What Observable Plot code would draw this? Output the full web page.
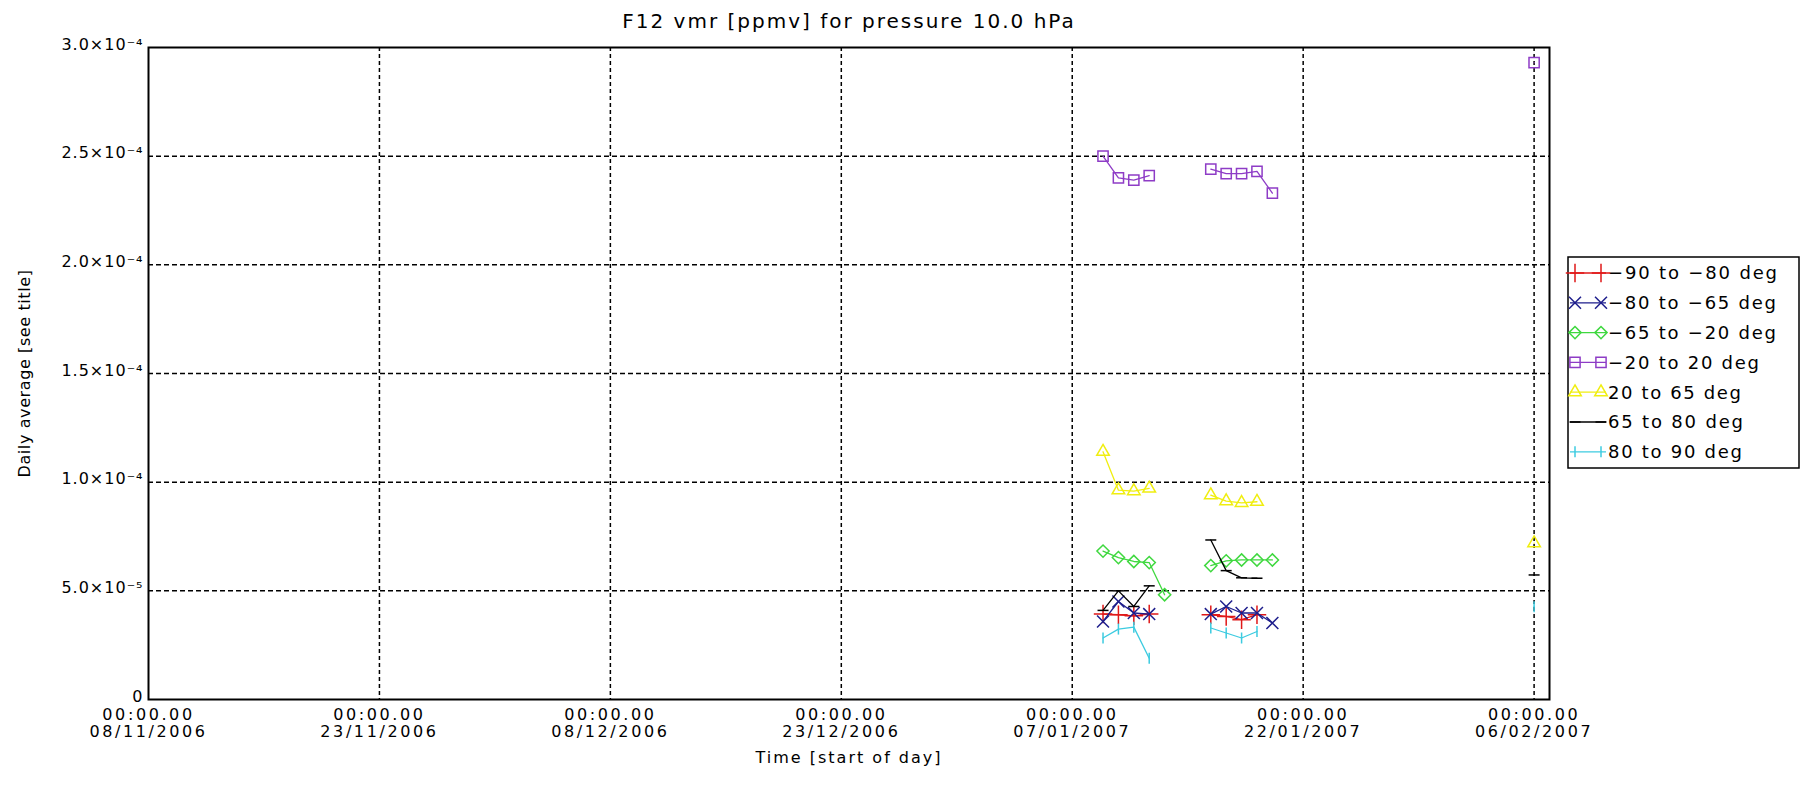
<!DOCTYPE html>
<html>
<head>
<meta charset="utf-8">
<script src="https://cdn.jsdelivr.net/npm/d3@7"></script>
<script src="https://cdn.jsdelivr.net/npm/@observablehq/plot@0.6"></script>
<style>
  html, body { margin: 0; padding: 0; background: white; }
  #chart svg { display: block; }
</style>
</head>
<body>
<div id="chart"></div>
<script>
// ---- data ----
const dates = ["2007-01-09","2007-01-10","2007-01-11","2007-01-12","2007-01-13",
               "2007-01-16","2007-01-17","2007-01-18","2007-01-19","2007-01-20","2007-02-06"];
const seriesNames = ["-90 to -80 deg","-80 to -65 deg","-65 to -20 deg","-20 to 20 deg","20 to 65 deg","65 to 80 deg","80 to 90 deg"];
const legendLabels = ["\u221290 to \u221280 deg","\u221280 to \u221265 deg","\u221265 to \u221220 deg","\u221220 to 20 deg","20 to 65 deg","65 to 80 deg","80 to 90 deg"];
const s90to80S = [3.93e-5, 3.90e-5, 3.85e-5, 3.93e-5, null, 3.90e-5, 3.82e-5, 3.67e-5, 3.90e-5, null, null];
const s80to65S = [3.59e-5, 4.51e-5, 3.98e-5, 3.93e-5, null, 3.93e-5, 4.28e-5, 3.98e-5, 3.98e-5, 3.52e-5, null];
const s65to20S = [6.83e-5, 6.53e-5, 6.35e-5, 6.30e-5, 4.82e-5, 6.16e-5, 6.38e-5, 6.42e-5, 6.42e-5, 6.42e-5, null];
const s20Sto20N = [2.50e-4, 2.40e-4, 2.39e-4, 2.41e-4, null, 2.44e-4, 2.42e-4, 2.42e-4, 2.43e-4, 2.33e-4, 2.93e-4];
const s20to65N = [1.14e-4, 9.63e-5, 9.59e-5, 9.71e-5, null, 9.40e-5, 9.13e-5, 9.05e-5, 9.10e-5, null, 7.19e-5];
const s65to80N = [4.10e-5, 5.00e-5, 4.28e-5, 5.23e-5, null, 7.34e-5, 5.93e-5, 5.60e-5, 5.58e-5, null, 5.73e-5];
const s80to90N = [2.83e-5, 3.24e-5, 3.33e-5, 1.90e-5, null, 3.29e-5, 3.06e-5, 2.83e-5, 3.13e-5, null, 4.27e-5];
const seriesValues = [s90to80S, s80to65S, s65to20S, s20Sto20N, s20to65N, s65to80N, s80to90N];
const seriesColors = ["#e01818","#1e1e8c","#3fd83f","#8e3cc6","#f0ee10","#000000","#3ccbe0"];

const xTicks = ["2006-11-08","2006-11-23","2006-12-08","2006-12-23","2007-01-07","2007-01-22","2007-02-06"];
const xTickLabels = ["00:00.00\n08/11/2006","00:00.00\n23/11/2006","00:00.00\n08/12/2006","00:00.00\n23/12/2006",
                     "00:00.00\n07/01/2007","00:00.00\n22/01/2007","00:00.00\n06/02/2007"];
const yTicks = [0, 5e-5, 1e-4, 1.5e-4, 2e-4, 2.5e-4, 3e-4];
const yTickLabels = ["0","5.0\u00d710\u207b\u2075","1.0\u00d710\u207b\u2074","1.5\u00d710\u207b\u2074","2.0\u00d710\u207b\u2074","2.5\u00d710\u207b\u2074","3.0\u00d710\u207b\u2074"];
const titleText = "F12 vmr [ppmv] for pressure 10.0 hPa";
const xLabel = "Time [start of day]";
const yLabel = "Daily average [see title]";

// ---- symbols ----
const hbar = {draw(ctx, size) { const r = Math.sqrt(size / Math.PI); ctx.moveTo(-r, 0); ctx.lineTo(r, 0); }};
const vbar = {draw(ctx, size) { const r = Math.sqrt(size / Math.PI); ctx.moveTo(0, -r); ctx.lineTo(0, r); }};
const seriesSymbols = [d3.symbolPlus, d3.symbolTimes, d3.symbolDiamond2, d3.symbolSquare2, d3.symbolTriangle2, hbar, vbar];
const symbolR = [6, 5.5, 5.5, 6.5, 6, 5.5, 5.5];

// ---- build table ----
const parse = d3.utcParse("%Y-%m-%d");
const dateObjs = dates.map(parse);
const segs = [];
let seg = 0;
dateObjs.forEach((d, i) => { if (i > 0 && (d - dateObjs[i - 1]) > 86400000 * 1.5) seg++; segs.push(seg); });
const rows = [];
seriesNames.forEach((name, k) => {
  seriesValues[k].forEach((v, i) => {
    rows.push({series: name, k, date: dateObjs[i], value: v, seg: segs[i], key: name + "|" + segs[i]});
  });
});

const xTickDates = xTicks.map(parse);
const xFmt = d => { const i = xTickDates.findIndex(t => +t === +d); return i >= 0 ? xTickLabels[i] : ""; };
const yFmt = d => { const i = yTicks.findIndex(t => Math.abs(t - d) < 1e-12); return i >= 0 ? yTickLabels[i] : ""; };

const marks = [
  Plot.gridX(xTickDates.slice(1), {stroke: "black", strokeOpacity: 1, strokeWidth: 1.5, strokeDasharray: "4,3"}),
  Plot.gridY(yTicks.slice(1, -1), {stroke: "black", strokeOpacity: 1, strokeWidth: 1.5, strokeDasharray: "5,3"}),
  Plot.frame({stroke: "black", strokeWidth: 2}),
  Plot.axisX({ticks: xTickDates, tickFormat: xFmt, tickSize: 0, tickPadding: 9, fontSize: 16, label: null,
              lineHeight: 1.05}),
  Plot.axisY({ticks: yTicks, tickFormat: yFmt, tickSize: 0, tickPadding: 5, fontSize: 16, label: null, dy: -3}),
  Plot.text([titleText], {frameAnchor: "top", dy: -34, fontSize: 20, fill: "black"}),
  Plot.text([xLabel], {frameAnchor: "bottom", dy: 63, fontSize: 16, fill: "black"}),
  Plot.text([yLabel], {frameAnchor: "left", textAnchor: "middle", dx: -124, rotate: -90, fontSize: 16, fill: "black"})
];
seriesNames.forEach((name, k) => {
  const data = rows.filter(r => r.k === k);
  marks.push(Plot.line(data, {x: "date", y: "value", z: "key", stroke: seriesColors[k], strokeWidth: 1.3}));
  marks.push(Plot.dot(data.filter(r => r.value != null), {x: "date", y: "value", symbol: () => seriesSymbols[k],
    r: symbolR[k], stroke: seriesColors[k], fill: "none", strokeWidth: 1.5}));
});

const chart = Plot.plot({
  width: 1801, height: 787,
  marginLeft: 148, marginRight: 252, marginTop: 47, marginBottom: 88,
  x: {type: "utc", domain: [parse("2006-11-08"), parse("2007-02-07")]},
  y: {domain: [0, 3e-4]},
  symbol: {type: "identity"},
  style: {fontFamily: "'DejaVu Sans', sans-serif", fontSize: "16px", background: "white", color: "black"},
  marks
});
document.getElementById("chart").appendChild(chart);

// widen text slightly to mimic the IDL vector font
const svg = d3.select(chart);
svg.selectAll("text").filter(function() { return this.textContent === titleText; }).style("letter-spacing", "2px");
svg.selectAll("text").filter(function() { return this.textContent === xLabel; }).style("letter-spacing", "2px");
svg.selectAll("text").filter(function() { return this.textContent === yLabel; }).style("letter-spacing", "0.6px");
svg.selectAll("g[aria-label='y-axis tick label'] text").style("letter-spacing", "1px");
svg.selectAll("g[aria-label='x-axis tick label'] text").style("letter-spacing", "2.6px");

// ---- legend ----
const legendTextWidths = [169, 168, 168, 151, 133, 135, 134];
const lg = svg.append("g").attr("class", "legend").attr("text-anchor", "start");
lg.append("rect").attr("x", 1568).attr("y", 257).attr("width", 231).attr("height", 211)
  .attr("fill", "white").attr("stroke", "black").attr("stroke-width", 1.5);
legendLabels.forEach((lab, k) => {
  const y = 273 + 29.8 * k;
  const g = lg.append("g");
  g.append("line").attr("x1", 1570).attr("x2", 1606).attr("y1", y).attr("y2", y)
    .attr("stroke", seriesColors[k]).attr("stroke-width", 1.3);
  [1575, 1601].forEach(cx => {
    g.append("path").attr("d", d3.symbol(seriesSymbols[k], Math.PI * symbolR[k] * symbolR[k])())
      .attr("transform", `translate(${cx},${y})`).attr("fill", "none")
      .attr("stroke", seriesColors[k]).attr("stroke-width", 1.5);
  });
  g.append("text").attr("x", 1608).attr("y", y).attr("dy", "0.35em").attr("text-anchor", "start")
    .style("font-family", "'DejaVu Sans', sans-serif").style("font-size", "18px")
    .attr("textLength", legendTextWidths[k]).attr("lengthAdjust", "spacing")
    .attr("fill", "black").text(lab);
});
</script>
</body>
</html>
